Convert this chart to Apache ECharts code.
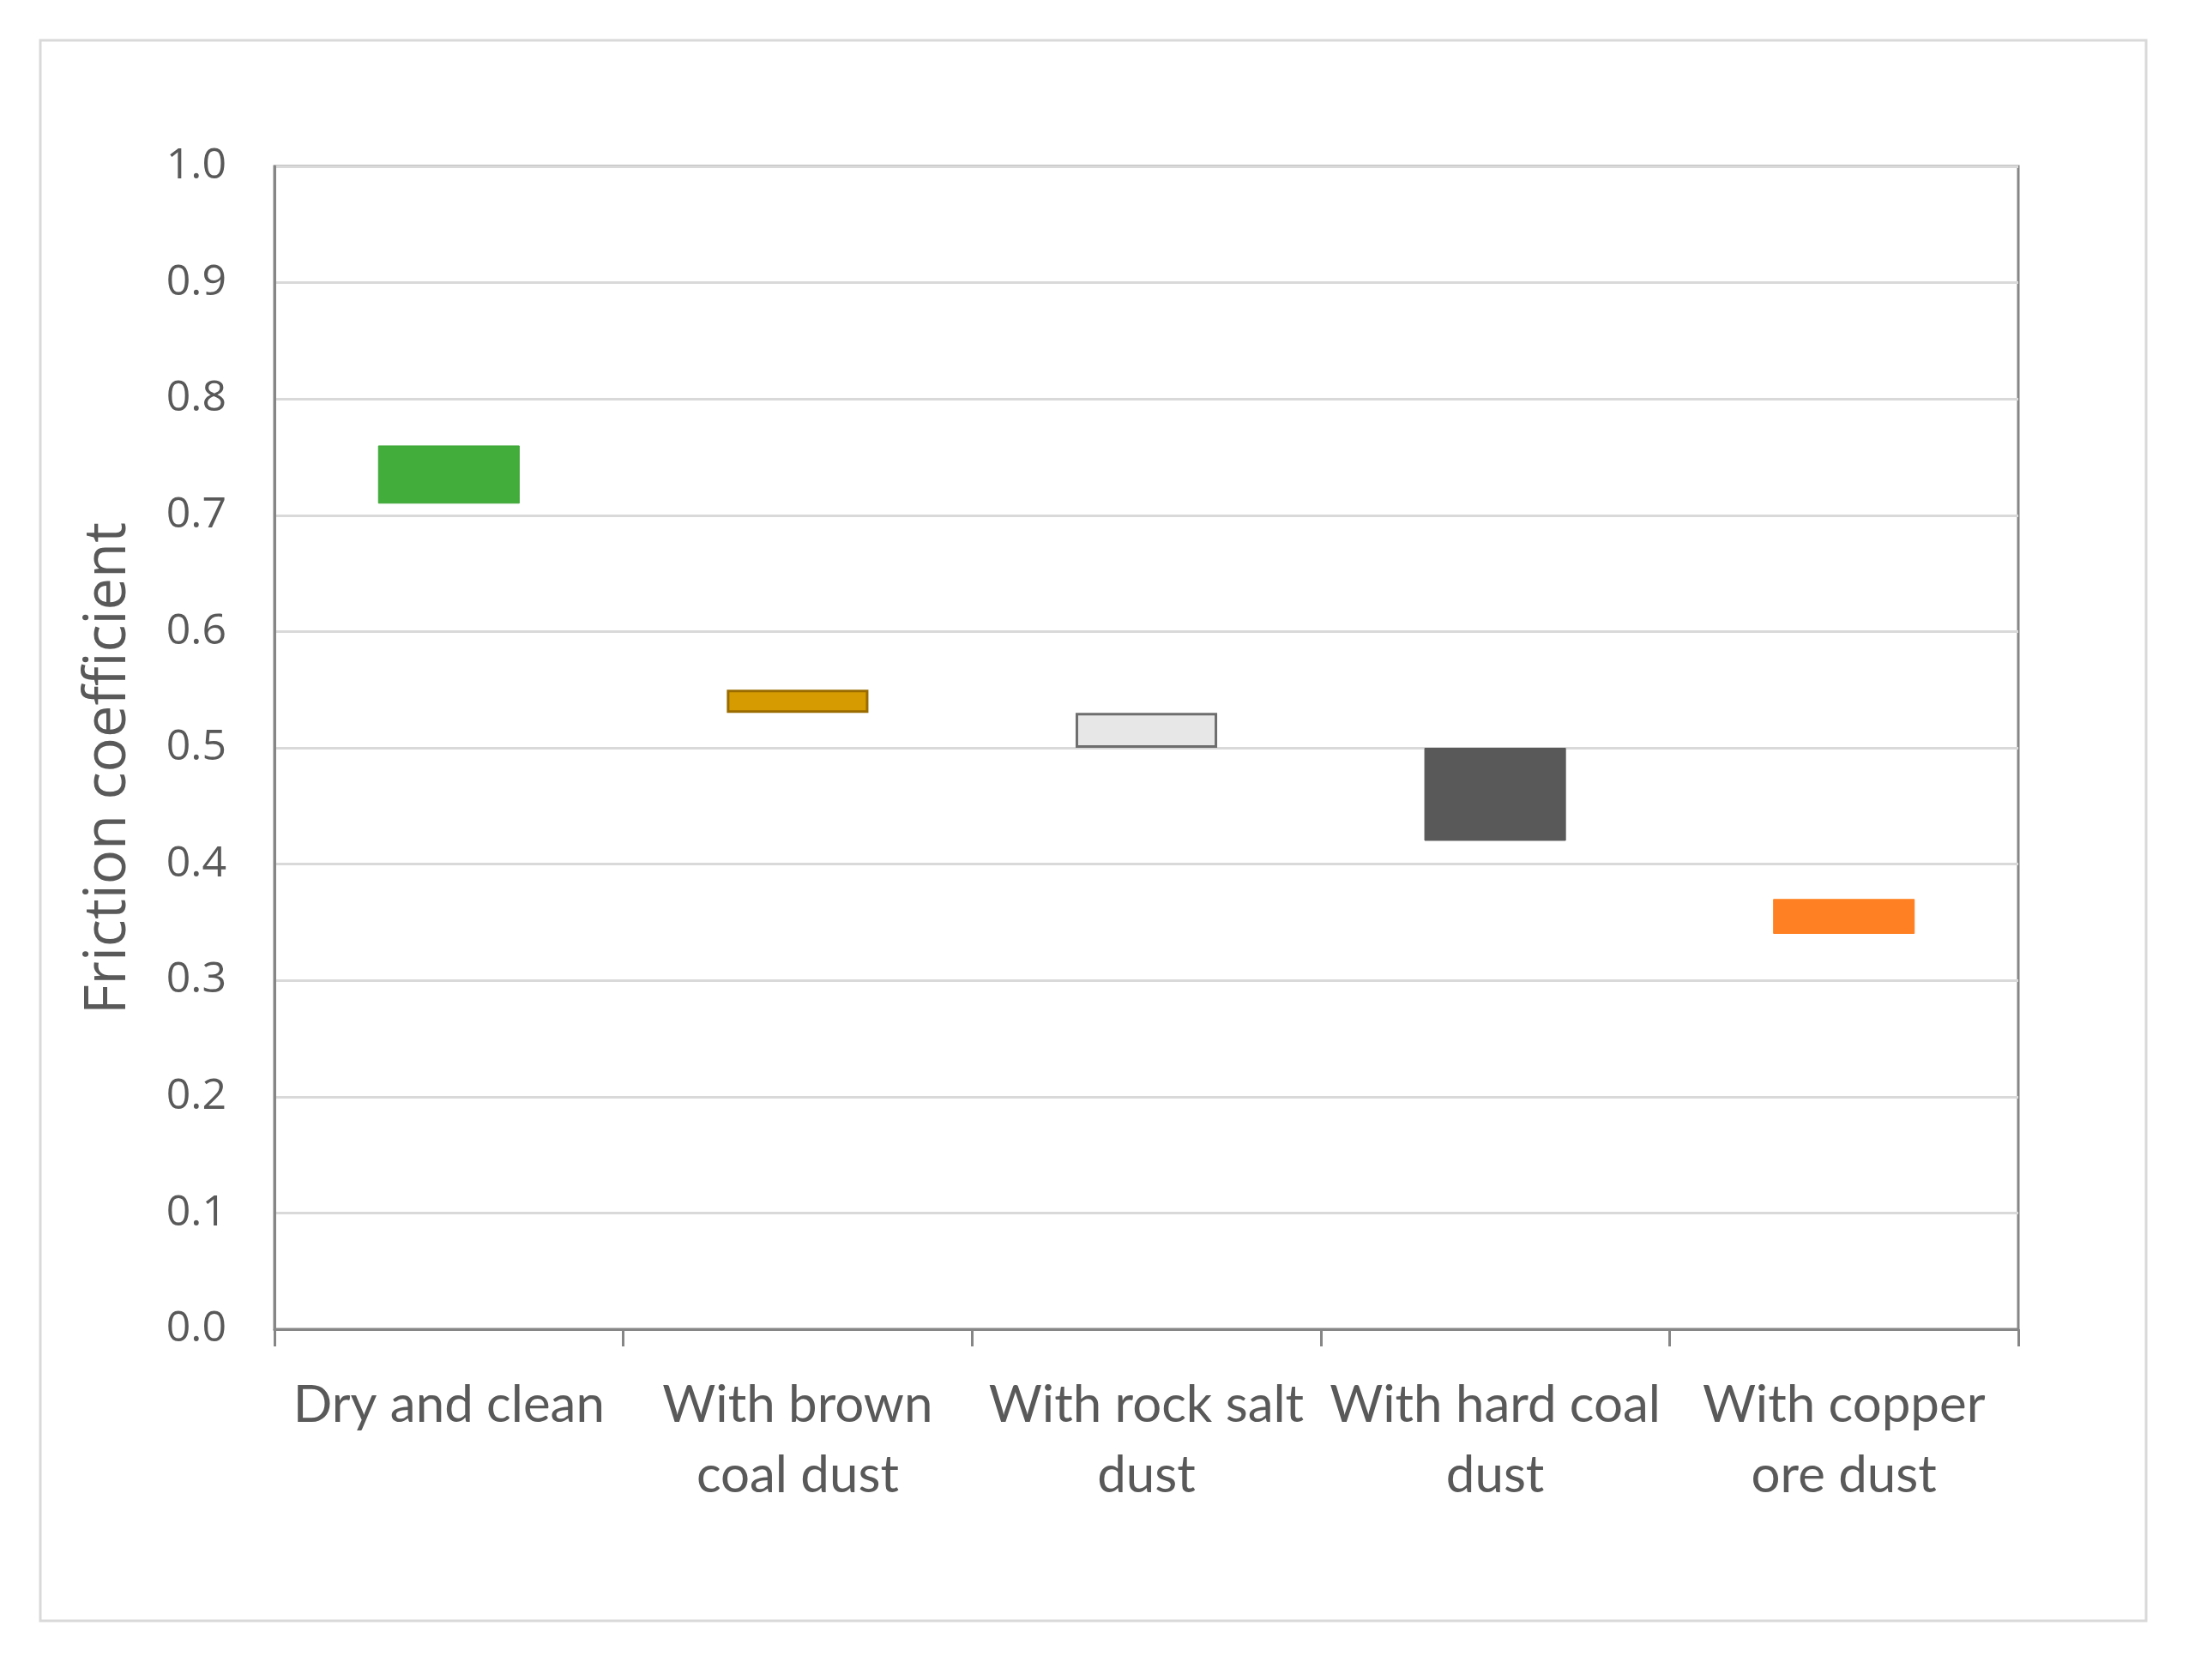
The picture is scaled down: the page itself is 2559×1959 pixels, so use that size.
<!DOCTYPE html>
<html>
<head>
<meta charset="utf-8">
<script src="https://cdn.jsdelivr.net/npm/echarts@6/dist/echarts.min.js"></script>
<style>
	html, body { margin: 0; padding: 0; background: #fff; }
	#chart { width: 2559px; height: 1959px; }
</style>
</head>
<body>
<div id="chart"></div>
<script>
// categories and friction ranges
const categories = ['Dry and clean', 'With brown\ncoal dust', 'With rock salt\ndust', 'With hard coal\ndust', 'With copper\nore dust'];
const lowValues = [0.71, 0.53, 0.50, 0.42, 0.34];
const highValues = [0.76, 0.55, 0.53, 0.50, 0.37];
const yTicks = ['0.0', '0.1', '0.2', '0.3', '0.4', '0.5', '0.6', '0.7', '0.8', '0.9', '1.0'];

const fills = ['#43ad3b', '#d59b00', '#e7e7e7', '#595959', '#ff8022'];
const borders = ['#3ea537', '#9a6c00', '#6e6e6e', '#595959', '#ff8022'];

const chart = echarts.init(document.getElementById('chart'));

const rangeData = highValues.map((h, i) => ({
	value: +(h - lowValues[i]).toFixed(3),
	itemStyle: {
		color: fills[i],
		borderColor: borders[i],
		borderWidth: i === 1 || i === 2 ? 3 : 1
	}
}));

const option = {
	backgroundColor: '#fff',
	animation: false,
	graphic: [{
		type: 'rect',
		shape: { x: 47, y: 47, width: 2455, height: 1843 },
		style: { fill: 'none', stroke: '#d9d9d9', lineWidth: 3 }
	}],
	grid: {
		left: 320,
		right: 206,
		top: 194,
		bottom: 409,
		show: true,
		borderColor: '#868686',
		borderWidth: 3,
		backgroundColor: 'transparent'
	},
	xAxis: {
		type: 'category',
		data: categories,
		axisLine: { lineStyle: { color: '#868686', width: 3 } },
		axisTick: { show: true, length: 20, lineStyle: { color: '#868686', width: 3 } },
		axisLabel: {
			color: '#595959',
			fontFamily: 'Lato',
			fontSize: 60,
			lineHeight: 82,
			margin: 48,
			interval: 0
		}
	},
	yAxis: {
		type: 'value',
		min: 0,
		max: 1,
		interval: 0.1,
		name: 'Friction coefficient',
		nameLocation: 'middle',
		nameGap: 160,
		nameTextStyle: {
			color: '#595959',
			fontFamily: 'Open Sans',
			fontSize: 67,
			padding: [0, 48, 0, 0]
		},
		axisLine: { show: true, lineStyle: { color: '#868686', width: 3 } },
		axisTick: { show: false },
		splitLine: { lineStyle: { color: '#d9d9d9', width: 3 } },
		axisLabel: {
			color: '#595959',
			fontFamily: 'Open Sans',
			fontSize: 50,
			margin: 56,
			formatter: (v) => yTicks[Math.round(v * 10)]
		}
	},
	series: [
		{
			name: 'base',
			type: 'bar',
			stack: 'range',
			barWidth: '40.6%',
			silent: true,
			itemStyle: { color: 'transparent' },
			data: lowValues
		},
		{
			name: 'range',
			type: 'bar',
			stack: 'range',
			barWidth: '40.6%',
			data: rangeData
		}
	]
};

chart.setOption(option);
</script>
</body>
</html>
